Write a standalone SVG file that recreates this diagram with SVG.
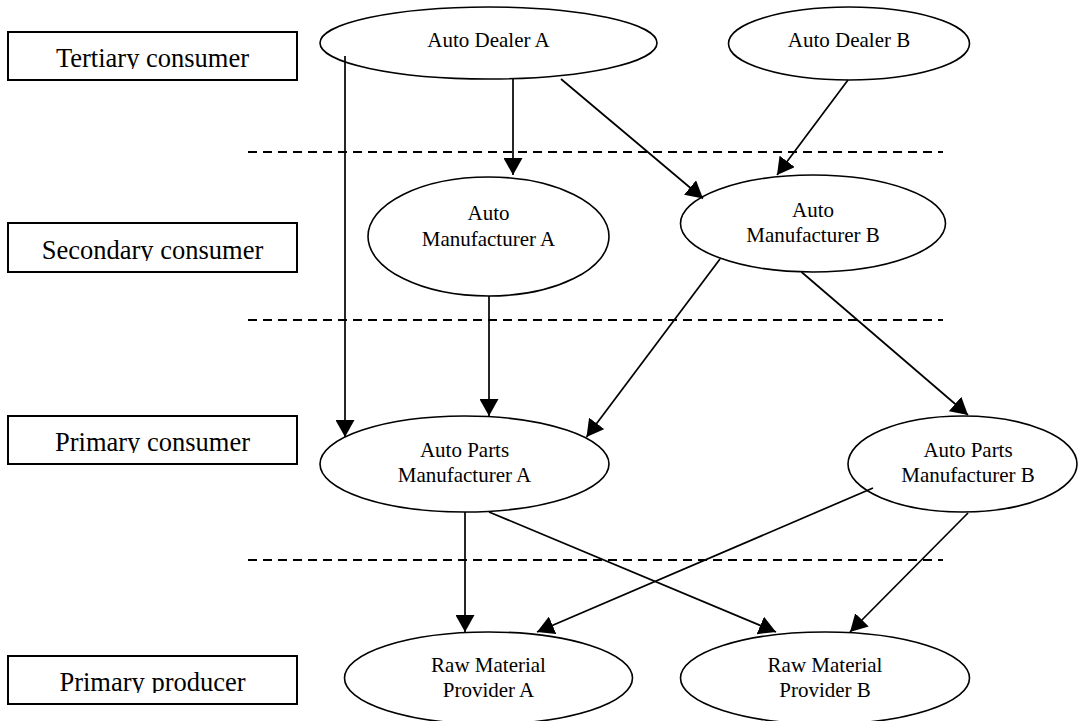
<svg xmlns="http://www.w3.org/2000/svg" width="1080" height="721" viewBox="0 0 1080 721">
<style>
.box{fill:#fff;stroke:#000;stroke-width:2}
.bt{font-family:"Liberation Serif","Times New Roman",serif;font-size:26.5px;fill:#000;text-anchor:middle}
.el{fill:#fff;stroke:#000;stroke-width:1.6}
.nt{font-family:"Liberation Serif","Times New Roman",serif;font-size:21px;fill:#000;text-anchor:middle}
.dash{stroke:#000;stroke-width:2;stroke-dasharray:9 6;fill:none}
.cn line{stroke:#000;stroke-width:1.7;fill:none;marker-end:url(#ah)}
</style>
<defs>
<marker id="ah" markerUnits="userSpaceOnUse" markerWidth="18" markerHeight="19" refX="17" refY="9.5" orient="auto">
<path d="M0,0 L17,9.5 L0,19 Z" fill="#000"/>
</marker>
<clipPath id="c1"><rect x="8" y="32" width="289" height="37"/></clipPath>
<clipPath id="c2"><rect x="8" y="223" width="289" height="38"/></clipPath>
<clipPath id="c3"><rect x="8" y="416" width="289" height="37"/></clipPath>
<clipPath id="c4"><rect x="8" y="656" width="289" height="37"/></clipPath>
</defs>
<rect width="1080" height="721" fill="#fff"/>
<g id="dividers">
<line class="dash" x1="248" y1="152" x2="943" y2="152"/>
<line class="dash" x1="248" y1="320" x2="943" y2="320"/>
<line class="dash" x1="248" y1="560" x2="943" y2="560"/>
</g>
<g id="level-tertiary"><rect class="box" x="8" y="32" width="289" height="48"/><text class="bt" x="152.5" y="67" clip-path="url(#c1)">Tertiary consumer</text></g>
<g id="level-secondary"><rect class="box" x="8" y="223" width="289" height="49"/><text class="bt" x="152.5" y="259" clip-path="url(#c2)">Secondary consumer</text></g>
<g id="level-primary-consumer"><rect class="box" x="8" y="416" width="289" height="48"/><text class="bt" x="152.5" y="451" clip-path="url(#c3)">Primary consumer</text></g>
<g id="level-primary-producer"><rect class="box" x="8" y="656" width="289" height="48"/><text class="bt" x="152.5" y="691" clip-path="url(#c4)">Primary producer</text></g>
<g id="auto-dealer-a"><ellipse class="el" cx="488.5" cy="43" rx="168.5" ry="36"/><text class="nt" x="488.5" y="47">Auto Dealer A</text></g>
<g id="auto-dealer-b"><ellipse class="el" cx="849" cy="43.5" rx="120.5" ry="36.5"/><text class="nt" x="849" y="47">Auto Dealer B</text></g>
<g id="auto-manufacturer-a"><ellipse class="el" cx="488.5" cy="236.5" rx="120.5" ry="59.5"/><text class="nt" x="488.5" y="220">Auto</text><text class="nt" x="488.5" y="246">Manufacturer A</text></g>
<g id="auto-manufacturer-b"><ellipse class="el" cx="813" cy="223.5" rx="132.5" ry="48.5"/><text class="nt" x="813" y="217">Auto</text><text class="nt" x="813" y="242">Manufacturer B</text></g>
<g id="auto-parts-manufacturer-a"><ellipse class="el" cx="464.5" cy="464" rx="144.5" ry="48"/><text class="nt" x="464.5" y="457">Auto Parts</text><text class="nt" x="464.5" y="482">Manufacturer A</text></g>
<g id="auto-parts-manufacturer-b"><ellipse class="el" cx="962.5" cy="464" rx="114.5" ry="48"/><text class="nt" x="968" y="457">Auto Parts</text><text class="nt" x="968" y="482">Manufacturer B</text></g>
<g id="raw-material-provider-a"><ellipse class="el" cx="488.5" cy="678" rx="144" ry="46"/><text class="nt" x="488.5" y="672">Raw Material</text><text class="nt" x="488.5" y="697">Provider A</text></g>
<g id="raw-material-provider-b"><ellipse class="el" cx="825" cy="678" rx="144.5" ry="46"/><text class="nt" x="825" y="672">Raw Material</text><text class="nt" x="825" y="697">Provider B</text></g>
<g id="connectors" class="cn">
<line x1="345" y1="56" x2="345" y2="437"/>
<line x1="513" y1="79" x2="513" y2="175"/>
<line x1="561" y1="79" x2="703" y2="198.5"/>
<line x1="848" y1="80" x2="777" y2="175"/>
<line x1="489" y1="296" x2="489" y2="416"/>
<line x1="720" y1="259" x2="586.5" y2="437"/>
<line x1="801.5" y1="272" x2="968" y2="415"/>
<line x1="465" y1="512" x2="465" y2="632"/>
<line x1="489" y1="512" x2="776" y2="632"/>
<line x1="873" y1="488" x2="537" y2="632"/>
<line x1="968" y1="513" x2="850" y2="632"/>
</g>
</svg>
